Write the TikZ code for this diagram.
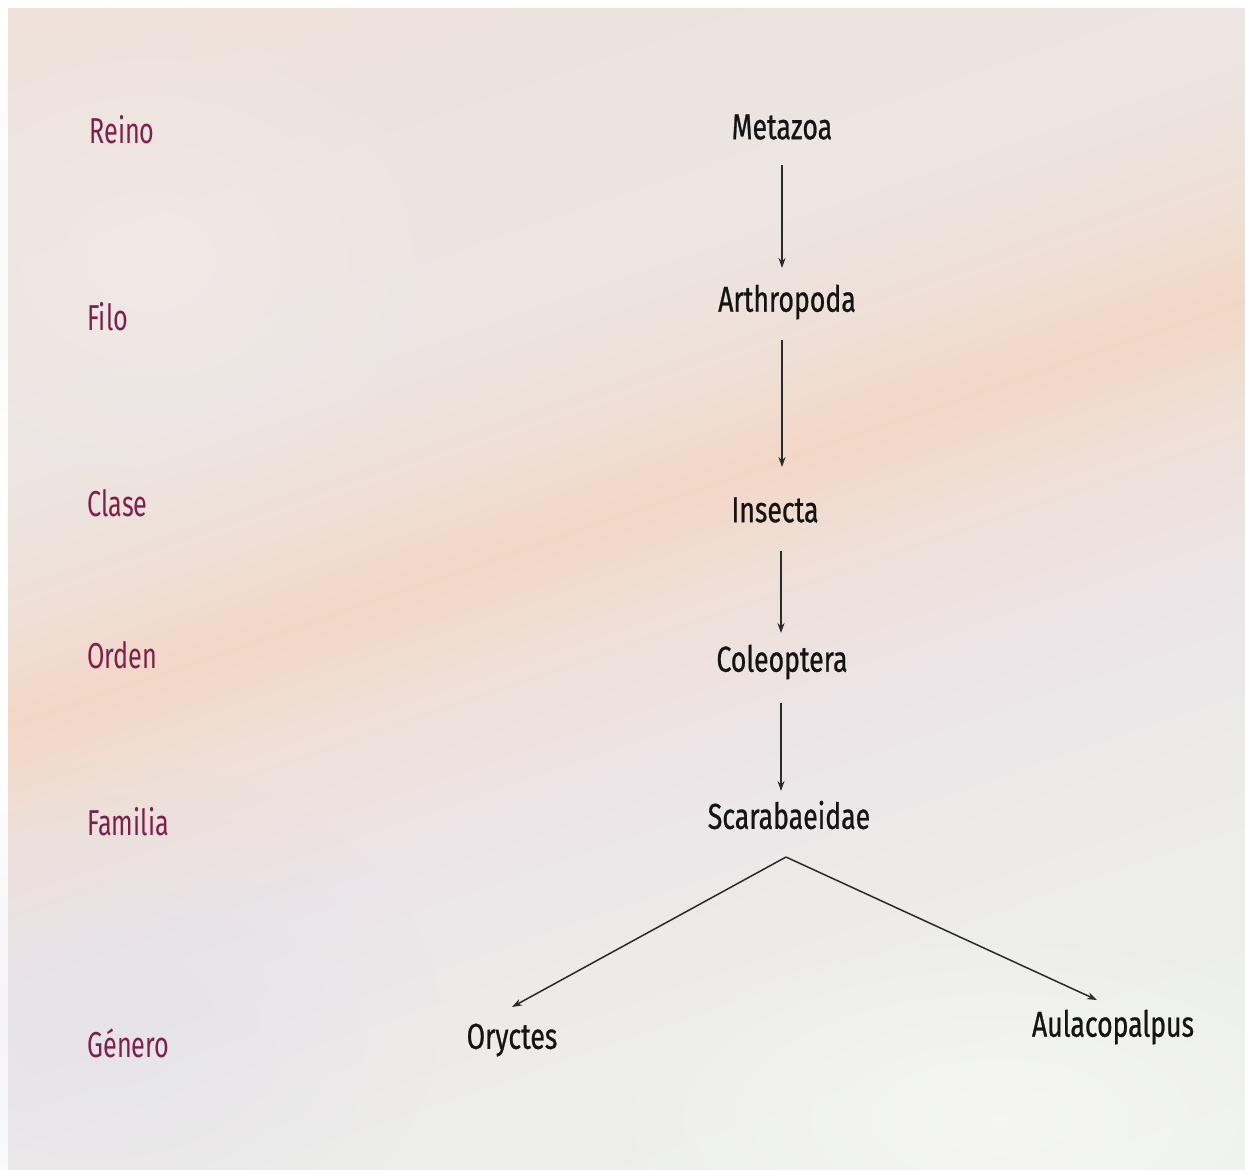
\documentclass[tikz,border=0pt]{standalone}
\usepackage{fontspec}
\setmainfont[FakeStretch=0.74]{Fira Sans}
\newfontfamily\rankfont[FakeStretch=0.70]{Fira Sans}
\usetikzlibrary{arrows.meta,calc,fadings}

\definecolor{washA}{HTML}{EEF3EE}
\definecolor{washB}{HTML}{EDEEEA}
\definecolor{washC}{HTML}{ECE5E8}
\definecolor{washD}{HTML}{EFDFD6}
\definecolor{washE}{HTML}{F3D7C6}
\definecolor{washF}{HTML}{ECE5E2}
\definecolor{washG}{HTML}{EEE2DA}
\definecolor{washH}{HTML}{F2E1D4}
\definecolor{rankcol}{HTML}{7E1F4E}
\definecolor{taxcol}{HTML}{141414}
\definecolor{linkcol}{HTML}{2A2A2A}

% soft pastel wash: mint at the bottom, an orange streak across the middle, peach at the top
\pgfdeclareverticalshading{pastelwash}{100bp}{%
  color(0bp)=(washA);
  color(30bp)=(washB);
  color(42bp)=(washC);
  color(49bp)=(washD);
  color(53bp)=(washE);
  color(57bp)=(washD);
  color(63bp)=(washF);
  color(80bp)=(washG);
  color(100bp)=(washH)}

% a glow that fades out smoothly from its centre
\tikzfading[name=softspot, inner color=transparent!0, outer color=transparent!100]

\begin{document}
\begin{tikzpicture}[x=0.5pt,y=-0.5pt,
  rank/.style={anchor=west,text=rankcol,font=\rankfont\fontsize{18pt}{20pt}\selectfont,inner sep=0pt},
  taxon/.style={text=taxcol,font=\fontsize{18pt}{20pt}\selectfont\addfontfeatures{FakeBold=0.7},inner sep=0pt},
  link/.style={draw=linkcol,line width=0.75pt,-{Stealth[length=5pt,width=3.5pt]}},
  glow/.style={path fading=softspot}]
\useasboundingbox (0,0) rectangle (1245,1169);
\fill[white] (0,0) rectangle (1245,1169);
\shade[shading=pastelwash,shading angle=19] (8,8) rectangle (1245,1169);
% extra haze: pale grey glow top left, bluish tint low on the left, whitish glow bottom right
\fill[glow, color=washF!60!white, opacity=0.45] (150,260) ellipse (330 and 260);
\fill[glow, color=blue!6!washB, opacity=0.45] (110,1020) ellipse (330 and 260);
\fill[glow, color=white, opacity=0.45] (1000,1120) ellipse (420 and 200);

% rank labels
\node[rank] (reino)   at (89,130)  {Reino};
\node[rank] (filo)    at (87,317)  {Filo};
\node[rank] (clase)   at (87,503)  {Clase};
\node[rank] (orden)   at (87,655)  {Orden};
\node[rank] (familia) at (87,822)  {Familia};
\node[rank] (genero)  at (87,1043) {Género};

% taxa
\node[taxon] (meta)  at (782,127)  {Metazoa};
\node[taxon] (arth)  at (787,302)  {Arthropoda};
\node[taxon] (ins)   at (775,510)  {Insecta};
\node[taxon] (cole)  at (782,662)  {Coleoptera};
\node[taxon] (scar)  at (789,815)  {Scarabaeidae};
\node[taxon] (ory)   at (512,1040) {Oryctes};
\node[taxon] (aula)  at (1113,1027){Aulacopalpus};

% descent arrows
\coordinate (m1) at (782,165); \coordinate (m2) at (782,268);
\coordinate (a1) at (782,340); \coordinate (a2) at (782,467);
\coordinate (i1) at (781,551); \coordinate (i2) at (781,633);
\coordinate (c1) at (781,703); \coordinate (c2) at (781,791);
\draw[link] (m1) -- (m2);
\draw[link] (a1) -- (a2);
\draw[link] (i1) -- (i2);
\draw[link] (c1) -- (c2);

% fork below the family
\coordinate (fork) at (786,857);
\coordinate (oryin) at (512,1007);
\coordinate (aulain) at (1097,1000);
\draw[link] (fork) -- (oryin);
\draw[link] (fork) -- (aulain);
\end{tikzpicture}
\end{document}
